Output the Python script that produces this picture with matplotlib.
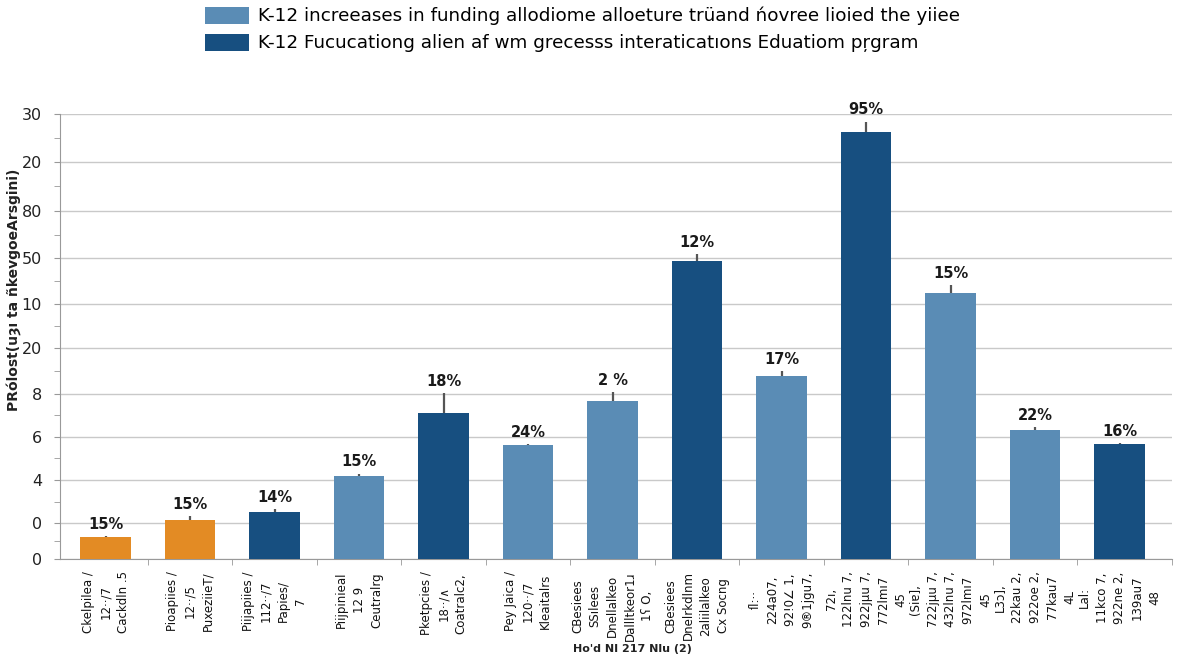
import matplotlib
matplotlib.use("Agg")
import matplotlib.pyplot as plt
from matplotlib.patches import Patch

# bar data (y on a 0-100 scale, 100 = top gridline)
categories = [
    "Ckelpilea /\n12··/7\nCackdln .5",
    "Pioapiies /\n12··/5\nPuxeziieT/",
    "Piijapiies /\n112··/7\nPapies/\n7",
    "Piijpinieal\n12 9\nCeutralrg",
    "Pketpcies /\n18··/∧\nCoatralc2,",
    "Pey Jaica /\n120··/7\nKleaitalrs",
    "CBesiees\nSSılees\nDnellalkeo\nDallltkeor1ɹ\n1ʕ O,",
    "CBesiees\nDnelrkdlnm\n2aliilalkeo\nCx Socng",
    "ſl:··\n224a07,\n92!0∠ 1,\n9®1jgu7,",
    "72ı,\n122lnu 7,\n922jμu 7,\n772lmı7\n45",
    "(Siɐ],\n722jμu 7,\n432lnu 7,\n972lmı7\n45",
    "L3ɔ],\n22kau 2,\n922oe 2,\n77kau7\n4L",
    "Lal:\n11kco 7,\n922ne 2,\n139au7\n48",
]
values = [4.9, 8.8, 10.6, 18.7, 32.8, 25.6, 35.5, 67.0, 41.1, 96.0, 59.8, 29.0, 25.8]
errors = [0.3, 0.9, 0.7, 0.5, 4.5, 0.3, 2.0, 1.6, 1.1, 2.3, 1.8, 0.7, 0.3]
pct_labels = ["15%", "15%", "14%", "15%", "18%", "24%", "2 %", "12%", "17%", "95%", "15%", "22%", "16%"]
groups = ["o", "o", "d", "l", "d", "l", "l", "d", "l", "d", "l", "l", "d"]

# y ticks (odd labels as printed in the original)
ytick_pos = [0, 8.0, 17.8, 27.5, 37.1, 47.5, 57.3, 67.6, 78.2, 89.3, 100]
ytick_lbl = ["0", "0", "4", "6", "8", "20", "10", "50", "80", "20", "30"]

legend_labels = [
    "K-12 increeases in funding allodiome alloeture trüand ńovree lioied the yiiee",
    "K-12 Fucucationg alien af wm grecesss interaticatıons Eduatiom pr̦gram",
]

colors = {"o": "#e38b24", "l": "#5a8cb5", "d": "#174f80"}

fig = plt.figure(figsize=(12, 6.54), dpi=100)
ax = fig.add_axes([0.05, 0.1453, 0.9267, 0.6804])

x = list(range(len(values)))
bar_colors = [colors[g] for g in groups]
ax.bar(x, values, width=0.6, color=bar_colors, zorder=3)
ax.errorbar(x, values, yerr=[[0] * len(errors), errors], fmt="none",
            ecolor="#555555", elinewidth=1.6, capsize=0, zorder=4)

for xi, v, e, lab in zip(x, values, errors, pct_labels):
    ax.annotate(lab, (xi, v + e), xytext=(0, 3), textcoords="offset points",
                ha="center", va="bottom", fontsize=10.5, fontweight="bold", color="#1a1a1a")

ax.set_xlim(-0.54, 12.62)
ax.set_ylim(0, 100)

ax.set_yticks(ytick_pos)
ax.set_yticklabels(ytick_lbl, fontsize=11.5, color="#222222")
mids = [(a + b) / 2 for a, b in zip(ytick_pos[:-1], ytick_pos[1:])]
ax.set_yticks(mids, minor=True)
ax.tick_params(axis="y", which="both", length=4, color="#999999", pad=9)

ax.set_xticks(x)
ax.set_xticklabels(categories, rotation=90, fontsize=8.5, color="#111111",
                   linespacing=1.45, multialignment="center", va="top")
ax.set_xticks([i + 0.5 for i in x[:-1]] + [12.62], minor=True)
ax.tick_params(axis="x", which="major", length=0, pad=9)
ax.tick_params(axis="x", which="minor", length=4, color="#999999")

ax.grid(axis="y", color="#c9c9c9", linewidth=1, zorder=0)
for s in ["top", "right"]:
    ax.spines[s].set_visible(False)
for s in ["left", "bottom"]:
    ax.spines[s].set_color("#999999")

fig.text(14 / 1200, 0.557, "PRólost(uȝı ta ñkevgoeArsgini)", rotation=90,
         ha="center", va="center", fontsize=10, fontweight="bold", color="#222222")
fig.text(0.527, 0.0, "Ho'd NI 217 Nlu (2)", ha="center", va="bottom",
         fontsize=8, fontweight="bold", color="#222222")

handles = [Patch(facecolor=colors["l"]), Patch(facecolor=colors["d"])]
fig.legend(handles, legend_labels, loc="upper left", bbox_to_anchor=(0.171, 0.99),
           frameon=False, fontsize=13.2, handlelength=2.4, handleheight=1.05,
           handletextpad=0.5, labelspacing=0.45, borderpad=0, borderaxespad=0)

fig.savefig("out.png", dpi=100)
